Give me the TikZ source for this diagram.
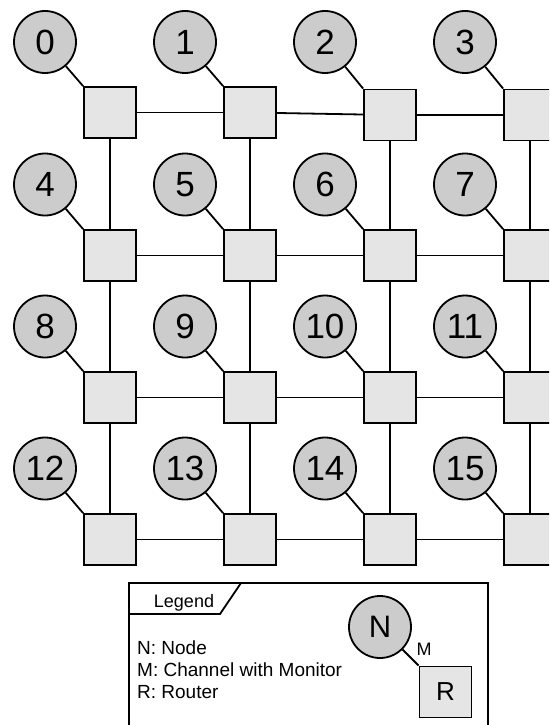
\documentclass[tikz,border=0pt]{standalone}
\usepackage{fontspec}
\setmainfont{Liberation Sans}
\begin{document}
\begin{tikzpicture}[x=1pt,y=-1pt,
  pe/.style={circle,draw,line width=1.8pt,fill=black!20,minimum size=62pt,inner sep=0pt,font=\fontsize{35}{35}\selectfont},
  router/.style={rectangle,draw,line width=1.8pt,fill=black!10,minimum width=52pt,minimum height=51pt,inner sep=0pt,font=\fontsize{26}{26}\selectfont},
  link/.style={line width=1.8pt},
  legtext/.style={font=\fontsize{19}{19}\selectfont,anchor=west,inner sep=0pt}]
\clip (0,0) rectangle (549,725);
\foreach \r/\ry/\cy in {0/112.5/42,1/255.5/184.5,2/397.5/326.5,3/539.5/468.5}{
  \foreach \c in {0,1,2,3}{
    \pgfmathtruncatemacro{\idx}{4*\r+\c}
    \pgfmathsetmacro{\yy}{(\r==0 && \c>1) ? 115 : \ry}
    \node[router] (r\idx) at ({110+140*\c},\yy) {};
    \node[pe] (n\idx) at ({45+140*\c},\cy) {\idx};
  }
}
\foreach \r in {0,1,2,3}{
  \foreach \c in {0,1,2}{
    \pgfmathtruncatemacro{\a}{4*\r+\c}
    \pgfmathtruncatemacro{\b}{4*\r+\c+1}
    \draw[link] (r\a) -- (r\b);
  }
}
\foreach \r in {0,1,2}{
  \foreach \c in {0,1,2,3}{
    \pgfmathtruncatemacro{\a}{4*\r+\c}
    \pgfmathtruncatemacro{\b}{4*\r+\c+4}
    \draw[link] (r\a) -- (r\b);
  }
}
\foreach \i in {0,...,15}{
  \draw[link] (n\i) -- (r\i.north west);
}
% legend
\coordinate (lgtl) at (129,583);
\coordinate (lgbr) at (488,740);
\draw[link] (lgtl) rectangle (lgbr);
\coordinate (tabl) at (129,614);
\coordinate (tabr) at (220,614);
\coordinate (tabt) at (241,583);
\draw[link] (tabl) -- (tabr) -- (tabt);
\node[font=\fontsize{18}{18}\selectfont,inner sep=0pt] (legtitle) at (184,603) {Legend};
\node[legtext] (t1) at (137,648) {N: Node};
\node[legtext] (t2) at (137,670) {M: Channel with Monitor};
\node[legtext] (t3) at (137,692) {R: Router};
\node[pe,font=\fontsize{31}{31}\selectfont] (ln) at (380,627) {N};
\node[router] (lr) at (445.5,692) {R};
\draw[link] (ln) -- (lr.north west);
\node[font=\fontsize{18}{18}\selectfont,inner sep=0pt] (lm) at (424,649) {M};
\end{tikzpicture}
\end{document}
